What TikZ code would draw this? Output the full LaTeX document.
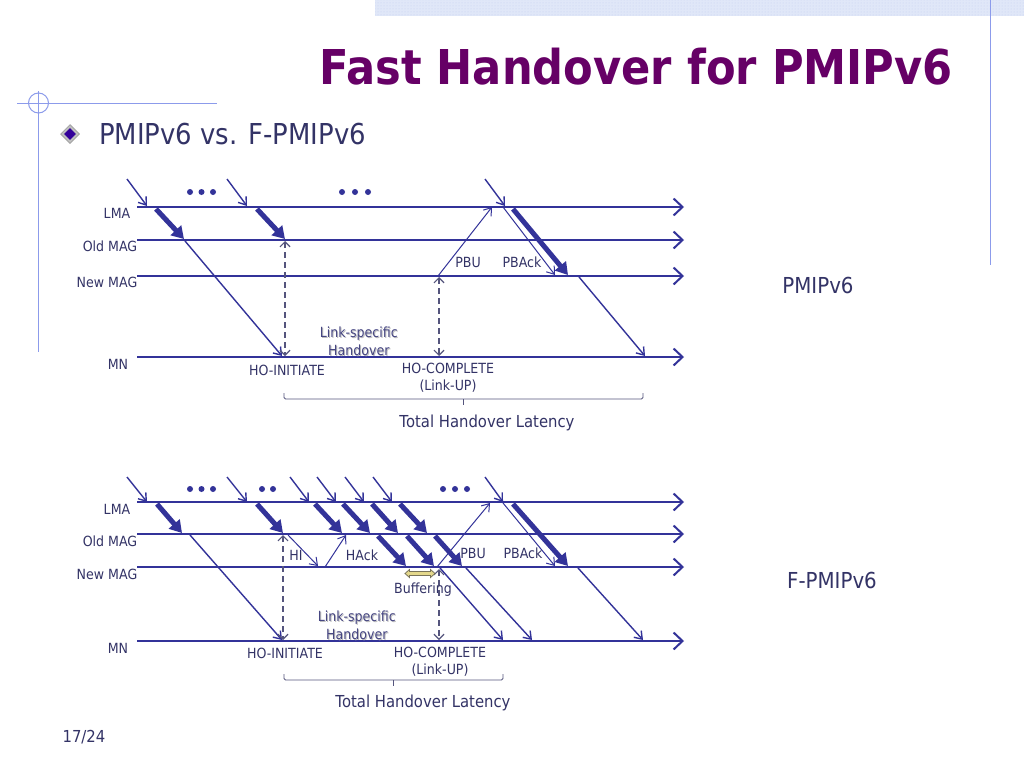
\documentclass[tikz,border=0pt]{standalone}
\usepackage{fontspec}
\setmainfont{DejaVu Sans}[FakeStretch=0.9]
\usetikzlibrary{arrows.meta,shapes.arrows,shapes.geometric,patterns}
\definecolor{ttl}{RGB}{102,0,102}
\definecolor{txt}{RGB}{51,51,102}
\definecolor{ln}{RGB}{51,51,153}
\definecolor{deco}{RGB}{140,155,235}
\definecolor{band}{RGB}{224,231,248}
\definecolor{bandd}{RGB}{196,208,240}
\definecolor{dsh}{RGB}{85,85,125}
\definecolor{bufc}{RGB}{228,216,140}
\definecolor{bufo}{RGB}{120,115,90}
\definecolor{lsc}{RGB}{70,70,130}
\definecolor{bulc}{RGB}{51,0,153}
\newcommand{\mkarrow}[4]{\coordinate (#2-s) at (#3); \coordinate (#2-e) at (#4); \path[#1] (#2-s) -- (#2-e);}
\begin{document}
\begin{tikzpicture}[x=1pt,y=-1pt,
  lbl/.style={text=txt,font=\fontsize{14}{17}\selectfont,inner sep=0pt,align=center},
  biglbl/.style={text=txt,font=\fontsize{16.5}{19}\selectfont,inner sep=0pt},
  sidelbl/.style={text=txt,font=\fontsize{22}{25}\selectfont,inner sep=0pt},
  lstext/.style={text=lsc,font=\fontsize{14}{18}\selectfont,inner sep=0pt,align=center},
  lsshadow/.style={text=black!25,font=\fontsize{14}{18}\selectfont,inner sep=0pt,align=center},
  timeline/.style={draw=ln,line width=2pt,-{Straight Barb[length=9pt,width=17pt]}},
  thin/.style={draw=ln,line width=1.4pt,-{Straight Barb[length=7pt,width=10pt]}},
  thick/.style={draw=ln,line width=5pt,-{Triangle[length=12pt,width=14pt]}},
  msg/.style={draw=ln,line width=1pt,-{Straight Barb[length=7pt,width=10pt]}},
  dash2/.style={draw=dsh,line width=1.2pt,dash pattern=on 6pt off 4pt,{Straight Barb[length=5pt,width=10pt]}-{Straight Barb[length=5pt,width=10pt]}},
  dotn/.style={circle,fill=ln,inner sep=0pt,minimum size=6pt},
  bracel/.style={draw=dsh,line width=0.8pt,rounded corners=1.5pt},
  decol/.style={draw=deco,line width=1pt},
  bufarrow/.style={draw=bufo,fill=bufc,line width=0.8pt,line join=miter}
]
\useasboundingbox (0,0) rectangle (1024,768);
\fill[white] (0,0) rectangle (1024,768);
% slide decoration
\fill[band] (375,0) rectangle (1024,16);
\fill[pattern=dots,pattern color=bandd] (375,0) rectangle (1024,16);
\draw[decol] (990,0) -- (990,265);
\draw[decol] (17,103) -- (217,103);
\draw[decol] (38,91) -- (38,352);
\draw[decol] (38.5,103) circle (10);
% title
\node[text=ttl,font=\fontsize{48}{52}\selectfont\bfseries,inner sep=0pt,anchor=base] (title) at (636,84) {Fast Handover for PMIPv6};
\node[diamond,fill=black!25,draw=black!45,line width=0.5pt,minimum size=19pt,inner sep=0pt] (bulo) at (70,134) {};
\node[diamond,fill=bulc,minimum size=12pt,inner sep=0pt] (bul) at (70,134) {};
\node[text=txt,font=\fontsize{28.8}{31}\selectfont,inner sep=0pt,anchor=west] (sub) at (99,134) {PMIPv6 vs. F-PMIPv6};
% timelines
\foreach \n/\y in {tL/207,tO/240,tN/276,tM/357,bL/502,bO/534,bN/567,bM/641}{
  \coordinate (\n-s) at (137,\y); \coordinate (\n-e) at (684,\y);
  \draw[timeline] (\n-s) -- (\n-e);
}
% labels top
\node[lbl] (tLl) at (117,213) {LMA};
\node[lbl] (tOl) at (110,246) {Old MAG};
\node[lbl] (tNl) at (107,282) {New MAG};
\node[lbl] (tMl) at (118,364) {MN};
% labels bottom
\node[lbl] (bLl) at (117,509) {LMA};
\node[lbl] (bOl) at (110,541) {Old MAG};
\node[lbl] (bNl) at (107,574) {New MAG};
\node[lbl] (bMl) at (118,648) {MN};
% dots
\node[dotn] (td1) at (190,192) {}; \node[dotn] (td2) at (201.5,192) {}; \node[dotn] (td3) at (213,192) {};
\node[dotn] (td4) at (342,192) {}; \node[dotn] (td5) at (355,192) {}; \node[dotn] (td6) at (368,192) {};
\node[dotn] (bd1) at (190,489) {}; \node[dotn] (bd2) at (201.5,489) {}; \node[dotn] (bd3) at (213,489) {};
\node[dotn] (bd4) at (262,489) {}; \node[dotn] (bd5) at (273,489) {};
\node[dotn] (bd6) at (443,489) {}; \node[dotn] (bd7) at (455,489) {}; \node[dotn] (bd8) at (467,489) {};
% top arrows
\mkarrow{thin}{a1}{127,179}{147,206}
\mkarrow{thick}{a2}{156,209}{184,239}
\mkarrow{thin}{a3}{185,241}{282,356}
\mkarrow{thin}{a4}{227,179}{247,206}
\mkarrow{thick}{a5}{257,209}{285,239}
\mkarrow{dash2}{d1}{285,241}{285,356}
\mkarrow{thin}{a6}{485,179}{505,206}
\mkarrow{msg}{pbu1}{438,276}{492,207}
\mkarrow{msg}{pback1}{503,207}{555,275}
\mkarrow{thick}{a7}{513,209}{568,275}
\mkarrow{thin}{a8}{579,277}{645,356}
\mkarrow{dash2}{d2}{439,277}{439,356}
% bottom arrows
\mkarrow{thin}{b1}{127,477}{147,502}
\mkarrow{thick}{b2}{157,504}{182,533}
\mkarrow{thin}{b3}{190,535}{282,640}
\mkarrow{thin}{b4}{227,477}{247,502}
\mkarrow{thick}{b5}{257,504}{283,533}
\mkarrow{dash2}{d3}{283,535}{283,640}
\mkarrow{msg}{hi}{288,535}{318,566}
\mkarrow{msg}{hack}{325,567}{346,535}
\mkarrow{thin}{c1}{290,477}{309,502}
\mkarrow{thin}{c2}{317,477}{336,502}
\mkarrow{thin}{c3}{345,477}{364,502}
\mkarrow{thin}{c4}{373,477}{392,502}
\mkarrow{thick}{e1}{315,504}{342,533}
\mkarrow{thick}{e2}{343,504}{370,533}
\mkarrow{thick}{e3}{372,504}{398,533}
\mkarrow{thick}{e4}{400,504}{427,533}
\mkarrow{thick}{f2}{378,536}{406,566}
\mkarrow{thick}{f3}{407,536}{434,566}
\mkarrow{thick}{f4}{435,536}{462,566}
\mkarrow{thin}{g1}{440,568}{503,640}
\mkarrow{thin}{g2}{466,568}{532,640}
\mkarrow{msg}{pbu2}{437,567}{490,503}
\mkarrow{thin}{b6}{485,477}{503,502}
\mkarrow{msg}{pback2}{503,503}{555,566}
\mkarrow{thick}{b7}{513,504}{568,566}
\mkarrow{thin}{b8}{578,568}{643,640}
\mkarrow{dash2}{d4}{439,569}{439,640}
% buffering double arrow
\coordinate (buf) at (420,573.5);
\draw[bufarrow] (buf) ++(-15,0) -- ++(4.5,-4) -- ++(0,2) -- ++(21,0) -- ++(0,-2) -- ++(4.5,4) -- ++(-4.5,4) -- ++(0,-2) -- ++(-21,0) -- ++(0,2) -- cycle;
% top texts
\node[lbl] (pbu1l) at (468,262) {PBU};
\node[lbl] (pback1l) at (522,262) {PBAck};
\node[lsshadow] (ls1sh) at (359.8,341.8) {Link-specific\\Handover};
\node[lstext] (ls1) at (358.8,340.8) {Link-specific\\Handover};
\node[lbl] (hoi1) at (287,370) {HO-INITIATE};
\node[lbl] (hoc1) at (448,378) {HO-COMPLETE\\(Link-UP)};
\coordinate (tbL) at (284,399); \coordinate (tbR) at (643,399); \coordinate (tbM) at (463,399);
\draw[bracel] (tbL) ++(0,-6) -- (tbL) -- (tbR) -- ++(0,-6);
\draw[bracel] (tbM) -- ++(0,6);
\node[biglbl] (tot1) at (487,423) {Total Handover Latency};
\node[sidelbl] (pm) at (818,285) {PMIPv6};
% bottom texts
\node[lbl] (hil) at (296,555) {HI};
\node[lbl] (hackl) at (362,555) {HAck};
\node[lbl] (pbu2l) at (473,553) {PBU};
\node[lbl] (pback2l) at (523,553) {PBAck};
\node[lbl] (bufl) at (423,590) {Buffering};
\node[lsshadow] (ls2sh) at (357.8,625.8) {Link-specific\\Handover};
\node[lstext] (ls2) at (356.8,624.8) {Link-specific\\Handover};
\node[lbl] (hoi2) at (285,653) {HO-INITIATE};
\node[lbl] (hoc2) at (440,662) {HO-COMPLETE\\(Link-UP)};
\coordinate (bbL) at (284,680); \coordinate (bbR) at (503,680); \coordinate (bbM) at (393,680);
\draw[bracel] (bbL) ++(0,-6) -- (bbL) -- (bbR) -- ++(0,-6);
\draw[bracel] (bbM) -- ++(0,6);
\node[biglbl] (tot2) at (423,703) {Total Handover Latency};
\node[sidelbl] (fpm) at (832,580) {F-PMIPv6};
\node[biglbl] (pg) at (84,737) {17/24};
\end{tikzpicture}
\end{document}
